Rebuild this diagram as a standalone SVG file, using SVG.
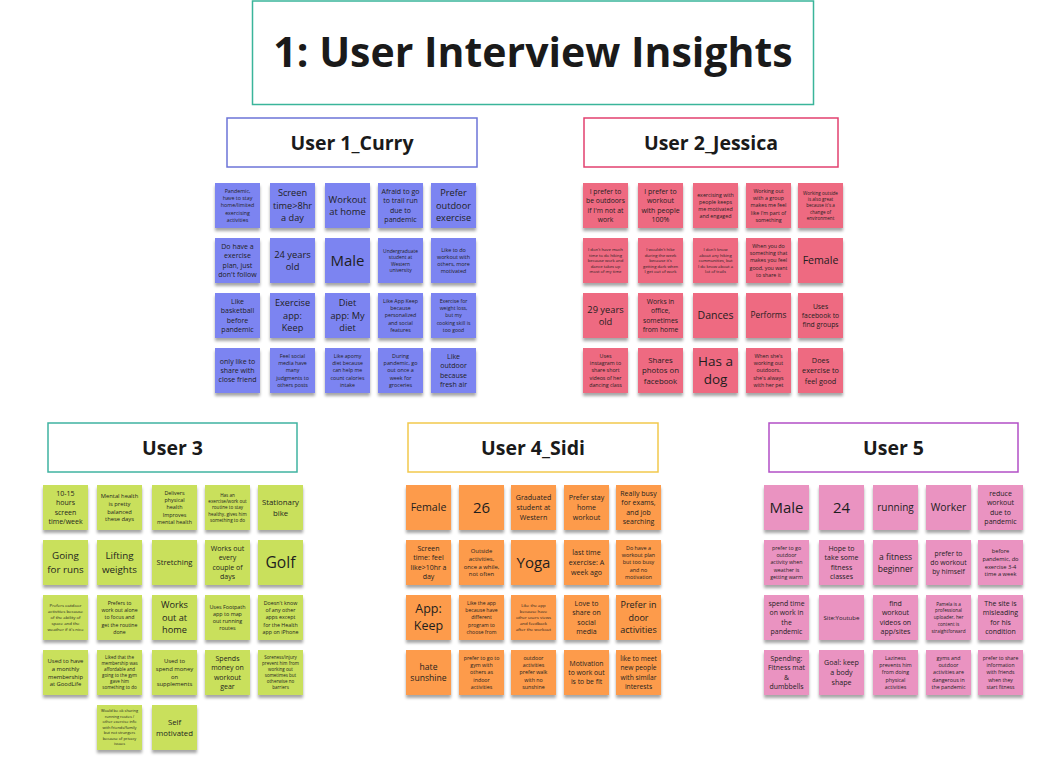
<svg xmlns="http://www.w3.org/2000/svg" width="1054" height="766" viewBox="0 0 1054 766">
<defs>
<filter id="sh" x="-20%" y="-20%" width="140%" height="150%">
<feDropShadow dx="0" dy="3" stdDeviation="1.6" flood-color="#000" flood-opacity="0.35"/>
</filter>
<style>
.t{font-family:"Open Sans","Liberation Sans",sans-serif;text-anchor:middle;fill:#1e1e1e}
.h{font-family:"Open Sans","Liberation Sans",sans-serif;font-weight:700;text-anchor:middle;fill:#1a1a1a}
.box{fill:#fff;stroke-width:1.5}
.n1{fill:#7c84f1;filter:url(#sh)}
.n2{fill:#ee6b81;filter:url(#sh)}
.n3{fill:#c9e05b;filter:url(#sh)}
.n4{fill:#fd9b4b;filter:url(#sh)}
.n5{fill:#ea93c1;filter:url(#sh)}
</style>
</defs>
<rect width="1054" height="766" fill="#fff"/>

<g id="title">
<rect class="box" x="252.5" y="1" width="561" height="103.5" stroke="#3ab59a"/>
<text class="h" x="533" y="67" font-size="41">1: User Interview Insights</text>
</g>

<g id="h1"><rect class="box" x="227" y="118" width="250" height="49" stroke="#6c74d8"/><text class="h" x="352" y="150" font-size="19.5">User 1_Curry</text></g>
<g id="h2"><rect class="box" x="584" y="118" width="254" height="49" stroke="#e2406f"/><text class="h" x="711" y="150" font-size="19.5">User 2_Jessica</text></g>
<g id="h3"><rect class="box" x="48" y="423" width="249" height="49" stroke="#3fb3a1"/><text class="h" x="172.5" y="455" font-size="19.5">User 3</text></g>
<g id="h4"><rect class="box" x="408" y="423" width="250" height="49" stroke="#f2c94c"/><text class="h" x="533" y="455" font-size="19.5">User 4_Sidi</text></g>
<g id="h5"><rect class="box" x="769" y="423" width="249" height="49" stroke="#b24fc6"/><text class="h" x="893.5" y="455" font-size="19.5">User 5</text></g>

<g id="connectors"></g>

<!-- User 1 -->
<g id="u1-1" transform="translate(215,183)"><rect class="n1" width="45" height="45"/><text class="t" font-size="5.3"><tspan x="22.5" y="10">Pandemic,</tspan><tspan x="22.5" y="17.2">have to stay</tspan><tspan x="22.5" y="24.4">home/limited</tspan><tspan x="22.5" y="31.6">exercising</tspan><tspan x="22.5" y="38.8">activities</tspan></text></g>
<g id="u1-2" transform="translate(270,183)"><rect class="n1" width="45" height="45"/><text class="t" font-size="9.2"><tspan x="22.5" y="13.4">Screen</tspan><tspan x="22.5" y="25.7">time&gt;8hr</tspan><tspan x="22.5" y="38">a day</tspan></text></g>
<g id="u1-3" transform="translate(325,183)"><rect class="n1" width="45" height="45"/><text class="t" font-size="9.4"><tspan x="22.5" y="19.5">Workout</tspan><tspan x="22.5" y="32">at home</tspan></text></g>
<g id="u1-4" transform="translate(378,183)"><rect class="n1" width="45" height="45"/><text class="t" font-size="7"><tspan x="22.5" y="11">Afraid to go</tspan><tspan x="22.5" y="20.3">to trail run</tspan><tspan x="22.5" y="29.6">due to</tspan><tspan x="22.5" y="38.9">pandemic</tspan></text></g>
<g id="u1-5" transform="translate(431,183)"><rect class="n1" width="45" height="45"/><text class="t" font-size="9.2"><tspan x="22.5" y="13.4">Prefer</tspan><tspan x="22.5" y="25.7">outdoor</tspan><tspan x="22.5" y="38">exercise</tspan></text></g>

<g id="u1-6" transform="translate(215,238)"><rect class="n1" width="45" height="45"/><text class="t" font-size="7"><tspan x="22.5" y="11">Do have a</tspan><tspan x="22.5" y="20.3">exercise</tspan><tspan x="22.5" y="29.6">plan, just</tspan><tspan x="22.5" y="38.9">don't follow</tspan></text></g>
<g id="u1-7" transform="translate(270,238)"><rect class="n1" width="45" height="45"/><text class="t" font-size="9.4"><tspan x="22.5" y="19.5">24 years</tspan><tspan x="22.5" y="32">old</tspan></text></g>
<g id="u1-8" transform="translate(325,238)"><rect class="n1" width="45" height="45"/><text class="t" font-size="15"><tspan x="22.5" y="27.8">Male</tspan></text></g>
<g id="u1-9" transform="translate(378,238)"><rect class="n1" width="45" height="45"/><text class="t" font-size="4.9"><tspan x="22.5" y="14.5">Undergraduate</tspan><tspan x="22.5" y="21">student at</tspan><tspan x="22.5" y="27.5">Western</tspan><tspan x="22.5" y="34">university</tspan></text></g>
<g id="u1-10" transform="translate(431,238)"><rect class="n1" width="45" height="45"/><text class="t" font-size="5.4"><tspan x="22.5" y="13.6">Like to do</tspan><tspan x="22.5" y="20.8">workout with</tspan><tspan x="22.5" y="28">others, more</tspan><tspan x="22.5" y="35.2">motivated</tspan></text></g>

<g id="u1-11" transform="translate(215,293)"><rect class="n1" width="45" height="45"/><text class="t" font-size="7"><tspan x="22.5" y="11">Like</tspan><tspan x="22.5" y="20.3">basketball</tspan><tspan x="22.5" y="29.6">before</tspan><tspan x="22.5" y="38.9">pandemic</tspan></text></g>
<g id="u1-12" transform="translate(270,293)"><rect class="n1" width="45" height="45"/><text class="t" font-size="9.2"><tspan x="22.5" y="13.4">Exercise</tspan><tspan x="22.5" y="25.7">app:</tspan><tspan x="22.5" y="38">Keep</tspan></text></g>
<g id="u1-13" transform="translate(325,293)"><rect class="n1" width="45" height="45"/><text class="t" font-size="9.2"><tspan x="22.5" y="13.4">Diet</tspan><tspan x="22.5" y="25.7">app: My</tspan><tspan x="22.5" y="38">diet</tspan></text></g>
<g id="u1-14" transform="translate(378,293)"><rect class="n1" width="45" height="45"/><text class="t" font-size="5.3"><tspan x="22.5" y="10">Like App Keep</tspan><tspan x="22.5" y="17.2">because</tspan><tspan x="22.5" y="24.4">personalized</tspan><tspan x="22.5" y="31.6">and social</tspan><tspan x="22.5" y="38.8">features</tspan></text></g>
<g id="u1-15" transform="translate(431,293)"><rect class="n1" width="45" height="45"/><text class="t" font-size="5.1"><tspan x="22.5" y="10">Exercise for</tspan><tspan x="22.5" y="17.2">weight loss,</tspan><tspan x="22.5" y="24.4">but my</tspan><tspan x="22.5" y="31.6">cooking skill is</tspan><tspan x="22.5" y="38.8">too good</tspan></text></g>

<g id="u1-16" transform="translate(215,348)"><rect class="n1" width="45" height="45"/><text class="t" font-size="7"><tspan x="22.5" y="15.7">only like to</tspan><tspan x="22.5" y="25">share with</tspan><tspan x="22.5" y="34.3">close friend</tspan></text></g>
<g id="u1-17" transform="translate(270,348)"><rect class="n1" width="45" height="45"/><text class="t" font-size="5.3"><tspan x="22.5" y="10">Feel social</tspan><tspan x="22.5" y="17.2">media have</tspan><tspan x="22.5" y="24.4">many</tspan><tspan x="22.5" y="31.6">judgments to</tspan><tspan x="22.5" y="38.8">others posts</tspan></text></g>
<g id="u1-18" transform="translate(325,348)"><rect class="n1" width="45" height="45"/><text class="t" font-size="5.2"><tspan x="22.5" y="10">Like apomy</tspan><tspan x="22.5" y="17.2">diet because</tspan><tspan x="22.5" y="24.4">can help me</tspan><tspan x="22.5" y="31.6">count calories</tspan><tspan x="22.5" y="38.8">intake</tspan></text></g>
<g id="u1-19" transform="translate(378,348)"><rect class="n1" width="45" height="45"/><text class="t" font-size="5.4"><tspan x="22.5" y="10">During</tspan><tspan x="22.5" y="17.2">pandemic, go</tspan><tspan x="22.5" y="24.4">out once a</tspan><tspan x="22.5" y="31.6">week for</tspan><tspan x="22.5" y="38.8">groceries</tspan></text></g>
<g id="u1-20" transform="translate(431,348)"><rect class="n1" width="45" height="45"/><text class="t" font-size="7"><tspan x="22.5" y="11">Like</tspan><tspan x="22.5" y="20.3">outdoor</tspan><tspan x="22.5" y="29.6">because</tspan><tspan x="22.5" y="38.9">fresh air</tspan></text></g>

<!-- User 2 -->
<g id="u2-1" transform="translate(583,183)"><rect class="n2" width="45" height="45"/><text class="t" font-size="6.8"><tspan x="22.5" y="11">I prefer to</tspan><tspan x="22.5" y="20.3">be outdoors</tspan><tspan x="22.5" y="29.6">if I'm not at</tspan><tspan x="22.5" y="38.9">work</tspan></text></g>
<g id="u2-2" transform="translate(638,183)"><rect class="n2" width="45" height="45"/><text class="t" font-size="7"><tspan x="22.5" y="11">I prefer to</tspan><tspan x="22.5" y="20.3">workout</tspan><tspan x="22.5" y="29.6">with people</tspan><tspan x="22.5" y="38.9">100%</tspan></text></g>
<g id="u2-3" transform="translate(693,183)"><rect class="n2" width="45" height="45"/><text class="t" font-size="5.3"><tspan x="22.5" y="13.6">exercising with</tspan><tspan x="22.5" y="20.8">people keeps</tspan><tspan x="22.5" y="28">me motivated</tspan><tspan x="22.5" y="35.2">and engaged</tspan></text></g>
<g id="u2-4" transform="translate(746,183)"><rect class="n2" width="45" height="45"/><text class="t" font-size="5.3"><tspan x="22.5" y="10">Working out</tspan><tspan x="22.5" y="17.2">with a group</tspan><tspan x="22.5" y="24.4">makes me feel</tspan><tspan x="22.5" y="31.6">like I'm part of</tspan><tspan x="22.5" y="38.8">something</tspan></text></g>
<g id="u2-5" transform="translate(798,183)"><rect class="n2" width="45" height="45"/><text class="t" font-size="4.6"><tspan x="22.5" y="11.6">Working outside</tspan><tspan x="22.5" y="17.9">is also great</tspan><tspan x="22.5" y="24.2">because it's a</tspan><tspan x="22.5" y="30.5">change of</tspan><tspan x="22.5" y="36.8">environment</tspan></text></g>

<g id="u2-6" transform="translate(583,238)"><rect class="n2" width="45" height="45"/><text class="t" font-size="4.2"><tspan x="22.5" y="13">I don't have much</tspan><tspan x="22.5" y="18.5">time to do hiking</tspan><tspan x="22.5" y="24">because work and</tspan><tspan x="22.5" y="29.5">dance takes up</tspan><tspan x="22.5" y="35">most of my time</tspan></text></g>
<g id="u2-7" transform="translate(638,238)"><rect class="n2" width="45" height="45"/><text class="t" font-size="4.2"><tspan x="22.5" y="13">I wouldn't hike</tspan><tspan x="22.5" y="18.5">during the week</tspan><tspan x="22.5" y="24">because it's</tspan><tspan x="22.5" y="29.5">getting dark when</tspan><tspan x="22.5" y="35">I get out of work</tspan></text></g>
<g id="u2-8" transform="translate(693,238)"><rect class="n2" width="45" height="45"/><text class="t" font-size="4.2"><tspan x="22.5" y="13">I don't know</tspan><tspan x="22.5" y="18.5">about any hiking</tspan><tspan x="22.5" y="24">communities, but</tspan><tspan x="22.5" y="29.5">I do know about a</tspan><tspan x="22.5" y="35">lot of trails</tspan></text></g>
<g id="u2-9" transform="translate(746,238)"><rect class="n2" width="45" height="45"/><text class="t" font-size="5.3"><tspan x="22.5" y="10">When you do</tspan><tspan x="22.5" y="17.2">something that</tspan><tspan x="22.5" y="24.4">makes you feel</tspan><tspan x="22.5" y="31.6">good, you want</tspan><tspan x="22.5" y="38.8">to share it</tspan></text></g>
<g id="u2-10" transform="translate(798,238)"><rect class="n2" width="45" height="45"/><text class="t" font-size="10.6"><tspan x="22.5" y="26.2">Female</tspan></text></g>

<g id="u2-11" transform="translate(583,293)"><rect class="n2" width="45" height="45"/><text class="t" font-size="9.3"><tspan x="22.5" y="19.5">29 years</tspan><tspan x="22.5" y="32">old</tspan></text></g>
<g id="u2-12" transform="translate(638,293)"><rect class="n2" width="45" height="45"/><text class="t" font-size="6.8"><tspan x="22.5" y="11">Works in</tspan><tspan x="22.5" y="20.3">office,</tspan><tspan x="22.5" y="29.6">sometimes</tspan><tspan x="22.5" y="38.9">from home</tspan></text></g>
<g id="u2-13" transform="translate(693,293)"><rect class="n2" width="45" height="45"/><text class="t" font-size="10.5"><tspan x="22.5" y="26.2">Dances</tspan></text></g>
<g id="u2-14" transform="translate(746,293)"><rect class="n2" width="45" height="45"/><text class="t" font-size="8.3"><tspan x="22.5" y="25.4">Performs</tspan></text></g>
<g id="u2-15" transform="translate(798,293)"><rect class="n2" width="45" height="45"/><text class="t" font-size="6.8"><tspan x="22.5" y="15.7">Uses</tspan><tspan x="22.5" y="25">facebook to</tspan><tspan x="22.5" y="34.3">find groups</tspan></text></g>

<g id="u2-16" transform="translate(583,348)"><rect class="n2" width="45" height="45"/><text class="t" font-size="5.3"><tspan x="22.5" y="10">Uses</tspan><tspan x="22.5" y="17.2">instagram to</tspan><tspan x="22.5" y="24.4">share short</tspan><tspan x="22.5" y="31.6">videos of her</tspan><tspan x="22.5" y="38.8">dancing class</tspan></text></g>
<g id="u2-17" transform="translate(638,348)"><rect class="n2" width="45" height="45"/><text class="t" font-size="7.8"><tspan x="22.5" y="14.9">Shares</tspan><tspan x="22.5" y="25.2">photos on</tspan><tspan x="22.5" y="35.5">facebook</tspan></text></g>
<g id="u2-18" transform="translate(693,348)"><rect class="n2" width="45" height="45"/><text class="t" font-size="13.5"><tspan x="22.5" y="17.5">Has a</tspan><tspan x="22.5" y="35.5">dog</tspan></text></g>
<g id="u2-19" transform="translate(746,348)"><rect class="n2" width="45" height="45"/><text class="t" font-size="5.3"><tspan x="22.5" y="10">When she's</tspan><tspan x="22.5" y="17.2">working out</tspan><tspan x="22.5" y="24.4">outdoors,</tspan><tspan x="22.5" y="31.6">she's always</tspan><tspan x="22.5" y="38.8">with her pet</tspan></text></g>
<g id="u2-20" transform="translate(798,348)"><rect class="n2" width="45" height="45"/><text class="t" font-size="7.3"><tspan x="22.5" y="14.9">Does</tspan><tspan x="22.5" y="25.2">exercise to</tspan><tspan x="22.5" y="35.5">feel good</tspan></text></g>

<!-- User 3 -->
<g id="u3-1" transform="translate(43,485)"><rect class="n3" width="45" height="45"/><text class="t" font-size="7"><tspan x="22.5" y="11">10-15</tspan><tspan x="22.5" y="20.3">hours</tspan><tspan x="22.5" y="29.6">screen</tspan><tspan x="22.5" y="38.9">time/week</tspan></text></g>
<g id="u3-2" transform="translate(97,485)"><rect class="n3" width="45" height="45"/><text class="t" font-size="5.8"><tspan x="22.5" y="12.9">Mental health</tspan><tspan x="22.5" y="20.7">is pretty</tspan><tspan x="22.5" y="28.5">balanced</tspan><tspan x="22.5" y="36.3">these days</tspan></text></g>
<g id="u3-3" transform="translate(152,485)"><rect class="n3" width="45" height="45"/><text class="t" font-size="5.4"><tspan x="22.5" y="10">Delivers</tspan><tspan x="22.5" y="17.2">physical</tspan><tspan x="22.5" y="24.4">health</tspan><tspan x="22.5" y="31.6">Improves</tspan><tspan x="22.5" y="38.8">mental health</tspan></text></g>
<g id="u3-4" transform="translate(205,485)"><rect class="n3" width="45" height="45"/><text class="t" font-size="4.6"><tspan x="22.5" y="11.6">Has an</tspan><tspan x="22.5" y="17.9">exercise/work out</tspan><tspan x="22.5" y="24.2">routine to stay</tspan><tspan x="22.5" y="30.5">healthy, gives him</tspan><tspan x="22.5" y="36.8">something to do</tspan></text></g>
<g id="u3-5" transform="translate(258,485)"><rect class="n3" width="45" height="45"/><text class="t" font-size="7.8"><tspan x="22.5" y="20">Stationary</tspan><tspan x="22.5" y="30.5">bike</tspan></text></g>

<g id="u3-6" transform="translate(43,540)"><rect class="n3" width="45" height="45"/><text class="t" font-size="9.8"><tspan x="22.5" y="19.3">Going</tspan><tspan x="22.5" y="32.6">for runs</tspan></text></g>
<g id="u3-7" transform="translate(97,540)"><rect class="n3" width="45" height="45"/><text class="t" font-size="9.8"><tspan x="22.5" y="19.3">Lifting</tspan><tspan x="22.5" y="32.6">weights</tspan></text></g>
<g id="u3-8" transform="translate(152,540)"><rect class="n3" width="45" height="45"/><text class="t" font-size="7.6"><tspan x="22.5" y="25.2">Stretching</tspan></text></g>
<g id="u3-9" transform="translate(205,540)"><rect class="n3" width="45" height="45"/><text class="t" font-size="7"><tspan x="22.5" y="11">Works out</tspan><tspan x="22.5" y="20.3">every</tspan><tspan x="22.5" y="29.6">couple of</tspan><tspan x="22.5" y="38.9">days</tspan></text></g>
<g id="u3-10" transform="translate(258,540)"><rect class="n3" width="45" height="45"/><text class="t" font-size="15.7"><tspan x="22.5" y="28">Golf</tspan></text></g>

<g id="u3-11" transform="translate(43,595)"><rect class="n3" width="45" height="45"/><text class="t" font-size="4.3"><tspan x="22.5" y="12">Prefers outdoor</tspan><tspan x="22.5" y="18">activities because</tspan><tspan x="22.5" y="24">of the ability of</tspan><tspan x="22.5" y="30">space and the</tspan><tspan x="22.5" y="36">weather if it's nice</tspan></text></g>
<g id="u3-12" transform="translate(97,595)"><rect class="n3" width="45" height="45"/><text class="t" font-size="5.2"><tspan x="22.5" y="10">Prefers to</tspan><tspan x="22.5" y="17.2">work out alone</tspan><tspan x="22.5" y="24.4">to focus and</tspan><tspan x="22.5" y="31.6">get the routine</tspan><tspan x="22.5" y="38.8">done</tspan></text></g>
<g id="u3-13" transform="translate(152,595)"><rect class="n3" width="45" height="45"/><text class="t" font-size="9.2"><tspan x="22.5" y="13.4">Works</tspan><tspan x="22.5" y="25.7">out at</tspan><tspan x="22.5" y="38">home</tspan></text></g>
<g id="u3-14" transform="translate(205,595)"><rect class="n3" width="45" height="45"/><text class="t" font-size="5.4"><tspan x="22.5" y="13.6">Uses Footpath</tspan><tspan x="22.5" y="20.8">app to map</tspan><tspan x="22.5" y="28">out running</tspan><tspan x="22.5" y="35.2">routes</tspan></text></g>
<g id="u3-15" transform="translate(258,595)"><rect class="n3" width="45" height="45"/><text class="t" font-size="5.3"><tspan x="22.5" y="10">Doesn't know</tspan><tspan x="22.5" y="17.2">of any other</tspan><tspan x="22.5" y="24.4">apps except</tspan><tspan x="22.5" y="31.6">for the Health</tspan><tspan x="22.5" y="38.8">app on iPhone</tspan></text></g>

<g id="u3-16" transform="translate(43,650)"><rect class="n3" width="45" height="45"/><text class="t" font-size="5.9"><tspan x="22.5" y="12.9">Used to have</tspan><tspan x="22.5" y="20.7">a monthly</tspan><tspan x="22.5" y="28.5">membership</tspan><tspan x="22.5" y="36.3">at GoodLife</tspan></text></g>
<g id="u3-17" transform="translate(97,650)"><rect class="n3" width="45" height="45"/><text class="t" font-size="4.5"><tspan x="22.5" y="9.1">Liked that the</tspan><tspan x="22.5" y="15.1">membership was</tspan><tspan x="22.5" y="21.1">affordable and</tspan><tspan x="22.5" y="27.1">going to the gym</tspan><tspan x="22.5" y="33.1">gave him</tspan><tspan x="22.5" y="39.1">something to do</tspan></text></g>
<g id="u3-18" transform="translate(152,650)"><rect class="n3" width="45" height="45"/><text class="t" font-size="5.9"><tspan x="22.5" y="12.9">Used to</tspan><tspan x="22.5" y="20.7">spend money</tspan><tspan x="22.5" y="28.5">on</tspan><tspan x="22.5" y="36.3">supplements</tspan></text></g>
<g id="u3-19" transform="translate(205,650)"><rect class="n3" width="45" height="45"/><text class="t" font-size="7"><tspan x="22.5" y="11">Spends</tspan><tspan x="22.5" y="20.3">money on</tspan><tspan x="22.5" y="29.6">workout</tspan><tspan x="22.5" y="38.9">gear</tspan></text></g>
<g id="u3-20" transform="translate(258,650)"><rect class="n3" width="45" height="45"/><text class="t" font-size="4.5"><tspan x="22.5" y="9.1">Soreness/injury</tspan><tspan x="22.5" y="15.1">prevent him from</tspan><tspan x="22.5" y="21.1">working out</tspan><tspan x="22.5" y="27.1">sometimes but</tspan><tspan x="22.5" y="33.1">otherwise no</tspan><tspan x="22.5" y="39.1">barriers</tspan></text></g>

<g id="u3-21" transform="translate(97,705)"><rect class="n3" width="45" height="45"/><text class="t" font-size="3.9"><tspan x="22.5" y="7.4">Would be ok sharing</tspan><tspan x="22.5" y="12.9">running routes /</tspan><tspan x="22.5" y="18.4">other exercise info</tspan><tspan x="22.5" y="23.9">with friends/family</tspan><tspan x="22.5" y="29.4">but not strangers</tspan><tspan x="22.5" y="34.9">because of privacy</tspan><tspan x="22.5" y="40.4">issues</tspan></text></g>
<g id="u3-22" transform="translate(152,705)"><rect class="n3" width="45" height="45"/><text class="t" font-size="7.8"><tspan x="22.5" y="20">Self</tspan><tspan x="22.5" y="30.5">motivated</tspan></text></g>

<!-- User 4 -->
<g id="u4-1" transform="translate(406,485)"><rect class="n4" width="45" height="45"/><text class="t" font-size="10.6"><tspan x="22.5" y="26.2">Female</tspan></text></g>
<g id="u4-2" transform="translate(459,485)"><rect class="n4" width="45" height="45"/><text class="t" font-size="15"><tspan x="22.5" y="27.8">26</tspan></text></g>
<g id="u4-3" transform="translate(511,485)"><rect class="n4" width="45" height="45"/><text class="t" font-size="7.1"><tspan x="22.5" y="15">Graduated</tspan><tspan x="22.5" y="25">student at</tspan><tspan x="22.5" y="35">Western</tspan></text></g>
<g id="u4-4" transform="translate(564,485)"><rect class="n4" width="45" height="45"/><text class="t" font-size="7.1"><tspan x="22.5" y="15">Prefer stay</tspan><tspan x="22.5" y="25">home</tspan><tspan x="22.5" y="35">workout</tspan></text></g>
<g id="u4-5" transform="translate(616,485)"><rect class="n4" width="45" height="45"/><text class="t" font-size="7"><tspan x="22.5" y="11">Really busy</tspan><tspan x="22.5" y="20.3">for exams,</tspan><tspan x="22.5" y="29.6">and job</tspan><tspan x="22.5" y="38.9">searching</tspan></text></g>

<g id="u4-6" transform="translate(406,540)"><rect class="n4" width="45" height="45"/><text class="t" font-size="7"><tspan x="22.5" y="11">Screen</tspan><tspan x="22.5" y="20.3">time: feel</tspan><tspan x="22.5" y="29.6">like&gt;10hr a</tspan><tspan x="22.5" y="38.9">day</tspan></text></g>
<g id="u4-7" transform="translate(459,540)"><rect class="n4" width="45" height="45"/><text class="t" font-size="5.9"><tspan x="22.5" y="12.9">Outside</tspan><tspan x="22.5" y="20.7">activities,</tspan><tspan x="22.5" y="28.5">once a while,</tspan><tspan x="22.5" y="36.3">not often</tspan></text></g>
<g id="u4-8" transform="translate(511,540)"><rect class="n4" width="45" height="45"/><text class="t" font-size="15"><tspan x="22.5" y="27.8">Yoga</tspan></text></g>
<g id="u4-9" transform="translate(564,540)"><rect class="n4" width="45" height="45"/><text class="t" font-size="7.1"><tspan x="22.5" y="15">last time</tspan><tspan x="22.5" y="25">exercise: A</tspan><tspan x="22.5" y="35">week ago</tspan></text></g>
<g id="u4-10" transform="translate(616,540)"><rect class="n4" width="45" height="45"/><text class="t" font-size="5.4"><tspan x="22.5" y="10">Do have a</tspan><tspan x="22.5" y="17.2">workout plan</tspan><tspan x="22.5" y="24.4">but too busy</tspan><tspan x="22.5" y="31.6">and no</tspan><tspan x="22.5" y="38.8">motivation</tspan></text></g>

<g id="u4-11" transform="translate(406,595)"><rect class="n4" width="45" height="45"/><text class="t" font-size="12.5"><tspan x="22.5" y="18.4">App:</tspan><tspan x="22.5" y="35.4">Keep</tspan></text></g>
<g id="u4-12" transform="translate(459,595)"><rect class="n4" width="45" height="45"/><text class="t" font-size="5.1"><tspan x="22.5" y="10">Like the app</tspan><tspan x="22.5" y="17.2">because have</tspan><tspan x="22.5" y="24.4">different</tspan><tspan x="22.5" y="31.6">program to</tspan><tspan x="22.5" y="38.8">choose from</tspan></text></g>
<g id="u4-13" transform="translate(511,595)"><rect class="n4" width="45" height="45"/><text class="t" font-size="4.3"><tspan x="22.5" y="12">Like the app</tspan><tspan x="22.5" y="18">because have</tspan><tspan x="22.5" y="24">other users views</tspan><tspan x="22.5" y="30">and feedback</tspan><tspan x="22.5" y="36">after the workout</tspan></text></g>
<g id="u4-14" transform="translate(564,595)"><rect class="n4" width="45" height="45"/><text class="t" font-size="7"><tspan x="22.5" y="11">Love to</tspan><tspan x="22.5" y="20.3">share on</tspan><tspan x="22.5" y="29.6">social</tspan><tspan x="22.5" y="38.9">media</tspan></text></g>
<g id="u4-15" transform="translate(616,595)"><rect class="n4" width="45" height="45"/><text class="t" font-size="9"><tspan x="22.5" y="13.4">Prefer in</tspan><tspan x="22.5" y="25.7">door</tspan><tspan x="22.5" y="38">activities</tspan></text></g>

<g id="u4-16" transform="translate(406,650)"><rect class="n4" width="45" height="45"/><text class="t" font-size="8.6"><tspan x="22.5" y="19.7">hate</tspan><tspan x="22.5" y="31.4">sunshine</tspan></text></g>
<g id="u4-17" transform="translate(459,650)"><rect class="n4" width="45" height="45"/><text class="t" font-size="5.3"><tspan x="22.5" y="10">prefer to go to</tspan><tspan x="22.5" y="17.2">gym with</tspan><tspan x="22.5" y="24.4">others as</tspan><tspan x="22.5" y="31.6">indoor</tspan><tspan x="22.5" y="38.8">activities</tspan></text></g>
<g id="u4-18" transform="translate(511,650)"><rect class="n4" width="45" height="45"/><text class="t" font-size="5.3"><tspan x="22.5" y="10">outdoor</tspan><tspan x="22.5" y="17.2">activities</tspan><tspan x="22.5" y="24.4">prefer walk</tspan><tspan x="22.5" y="31.6">with no</tspan><tspan x="22.5" y="38.8">sunshine</tspan></text></g>
<g id="u4-19" transform="translate(564,650)"><rect class="n4" width="45" height="45"/><text class="t" font-size="6.8"><tspan x="22.5" y="15.7">Motivation</tspan><tspan x="22.5" y="25">to work out</tspan><tspan x="22.5" y="34.3">is to be fit</tspan></text></g>
<g id="u4-20" transform="translate(616,650)"><rect class="n4" width="45" height="45"/><text class="t" font-size="6.7"><tspan x="22.5" y="11">like to meet</tspan><tspan x="22.5" y="20.3">new people</tspan><tspan x="22.5" y="29.6">with similar</tspan><tspan x="22.5" y="38.9">interests</tspan></text></g>

<!-- User 5 -->
<g id="u5-1" transform="translate(764,485)"><rect class="n5" width="45" height="45"/><text class="t" font-size="15"><tspan x="22.5" y="27.8">Male</tspan></text></g>
<g id="u5-2" transform="translate(819,485)"><rect class="n5" width="45" height="45"/><text class="t" font-size="15"><tspan x="22.5" y="27.8">24</tspan></text></g>
<g id="u5-3" transform="translate(873,485)"><rect class="n5" width="45" height="45"/><text class="t" font-size="10"><tspan x="22.5" y="26">running</tspan></text></g>
<g id="u5-4" transform="translate(926,485)"><rect class="n5" width="45" height="45"/><text class="t" font-size="10.4"><tspan x="22.5" y="26.2">Worker</tspan></text></g>
<g id="u5-5" transform="translate(978,485)"><rect class="n5" width="45" height="45"/><text class="t" font-size="7"><tspan x="22.5" y="11">reduce</tspan><tspan x="22.5" y="20.3">workout</tspan><tspan x="22.5" y="29.6">due to</tspan><tspan x="22.5" y="38.9">pandemic</tspan></text></g>

<g id="u5-6" transform="translate(764,540)"><rect class="n5" width="45" height="45"/><text class="t" font-size="5.3"><tspan x="22.5" y="10">prefer to go</tspan><tspan x="22.5" y="17.2">outdoor</tspan><tspan x="22.5" y="24.4">activity when</tspan><tspan x="22.5" y="31.6">weather is</tspan><tspan x="22.5" y="38.8">getting warm</tspan></text></g>
<g id="u5-7" transform="translate(819,540)"><rect class="n5" width="45" height="45"/><text class="t" font-size="7"><tspan x="22.5" y="11">Hope to</tspan><tspan x="22.5" y="20.3">take some</tspan><tspan x="22.5" y="29.6">fitness</tspan><tspan x="22.5" y="38.9">classes</tspan></text></g>
<g id="u5-8" transform="translate(873,540)"><rect class="n5" width="45" height="45"/><text class="t" font-size="8.5"><tspan x="22.5" y="19.5">a fitness</tspan><tspan x="22.5" y="31.5">beginner</tspan></text></g>
<g id="u5-9" transform="translate(926,540)"><rect class="n5" width="45" height="45"/><text class="t" font-size="6.8"><tspan x="22.5" y="15.7">prefer to</tspan><tspan x="22.5" y="25">do workout</tspan><tspan x="22.5" y="34.3">by himself</tspan></text></g>
<g id="u5-10" transform="translate(978,540)"><rect class="n5" width="45" height="45"/><text class="t" font-size="5.7"><tspan x="22.5" y="12.9">before</tspan><tspan x="22.5" y="20.7">pandemic, do</tspan><tspan x="22.5" y="28.5">exercise 3-4</tspan><tspan x="22.5" y="36.3">time a week</tspan></text></g>

<g id="u5-11" transform="translate(764,595)"><rect class="n5" width="45" height="45"/><text class="t" font-size="6.9"><tspan x="22.5" y="11">spend time</tspan><tspan x="22.5" y="20.3">on work in</tspan><tspan x="22.5" y="29.6">the</tspan><tspan x="22.5" y="38.9">pandemic</tspan></text></g>
<g id="u5-12" transform="translate(819,595)"><rect class="n5" width="45" height="45"/><text class="t" font-size="6.1"><tspan x="22.5" y="24.6">Site:Youtube</tspan></text></g>
<g id="u5-13" transform="translate(873,595)"><rect class="n5" width="45" height="45"/><text class="t" font-size="7"><tspan x="22.5" y="11">find</tspan><tspan x="22.5" y="20.3">workout</tspan><tspan x="22.5" y="29.6">videos on</tspan><tspan x="22.5" y="38.9">app/sites</tspan></text></g>
<g id="u5-14" transform="translate(926,595)"><rect class="n5" width="45" height="45"/><text class="t" font-size="4.7"><tspan x="22.5" y="10.6">Pamela is a</tspan><tspan x="22.5" y="17.4">professional</tspan><tspan x="22.5" y="24.2">uploader, her</tspan><tspan x="22.5" y="31">content is</tspan><tspan x="22.5" y="37.8">straightforward</tspan></text></g>
<g id="u5-15" transform="translate(978,595)"><rect class="n5" width="45" height="45"/><text class="t" font-size="7"><tspan x="22.5" y="11">The site is</tspan><tspan x="22.5" y="20.3">misleading</tspan><tspan x="22.5" y="29.6">for his</tspan><tspan x="22.5" y="38.9">condition</tspan></text></g>

<g id="u5-16" transform="translate(764,650)"><rect class="n5" width="45" height="45"/><text class="t" font-size="6.9"><tspan x="22.5" y="11">Spending:</tspan><tspan x="22.5" y="20.3">Fitness mat</tspan><tspan x="22.5" y="29.6">&amp;</tspan><tspan x="22.5" y="38.9">dumbbells</tspan></text></g>
<g id="u5-17" transform="translate(819,650)"><rect class="n5" width="45" height="45"/><text class="t" font-size="7.1"><tspan x="22.5" y="15">Goal: keep</tspan><tspan x="22.5" y="25">a body</tspan><tspan x="22.5" y="35">shape</tspan></text></g>
<g id="u5-18" transform="translate(873,650)"><rect class="n5" width="45" height="45"/><text class="t" font-size="5.3"><tspan x="22.5" y="10">Laziness</tspan><tspan x="22.5" y="17.2">prevents him</tspan><tspan x="22.5" y="24.4">from doing</tspan><tspan x="22.5" y="31.6">physical</tspan><tspan x="22.5" y="38.8">activities</tspan></text></g>
<g id="u5-19" transform="translate(926,650)"><rect class="n5" width="45" height="45"/><text class="t" font-size="5.3"><tspan x="22.5" y="10">gyms and</tspan><tspan x="22.5" y="17.2">outdoor</tspan><tspan x="22.5" y="24.4">activities are</tspan><tspan x="22.5" y="31.6">dangerous in</tspan><tspan x="22.5" y="38.8">the pandemic</tspan></text></g>
<g id="u5-20" transform="translate(978,650)"><rect class="n5" width="45" height="45"/><text class="t" font-size="5.1"><tspan x="22.5" y="10">prefer to share</tspan><tspan x="22.5" y="17.2">information</tspan><tspan x="22.5" y="24.4">with friends</tspan><tspan x="22.5" y="31.6">when they</tspan><tspan x="22.5" y="38.8">start fitness</tspan></text></g>
</svg>
